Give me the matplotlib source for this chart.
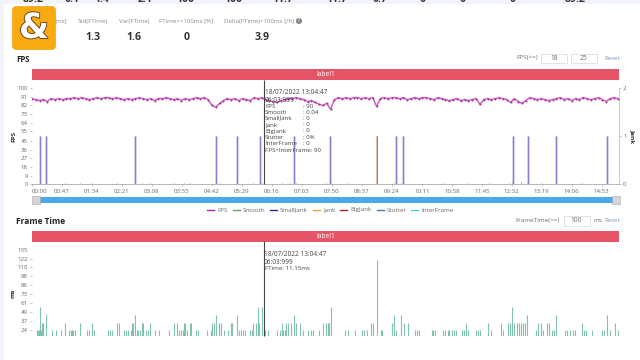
import matplotlib
matplotlib.use('Agg')
import matplotlib.pyplot as plt
import matplotlib.patheffects as pe
from matplotlib.patches import FancyBboxPatch, Rectangle

plt.rcParams['font.family'] = ['Open Sans', 'DejaVu Sans']

# ---- data ----
fps_step = 6  # seconds between samples
fps_values = [
    89, 88, 87, 88, 86, 89, 88, 89, 88, 89,
    89, 90, 89, 90, 89, 88, 89, 90, 89, 90,
    90, 89, 90, 89, 88, 89, 88, 89, 90, 89,
    88, 89, 87, 89, 89, 90, 89, 88, 89, 87,
    89, 88, 89, 90, 89, 90, 88, 82, 80, 84,
    87, 89, 88, 89, 87, 89, 88, 87, 90, 89,
    90, 88, 87, 86, 85, 87, 88, 89, 89, 90,
    89, 88, 86, 87, 85, 83, 82, 84, 78, 88,
    90, 89, 90, 89, 90, 90, 89, 90, 89, 90,
    81, 89, 90, 89, 90, 90, 89, 90, 88, 89,
    90, 89, 90, 90, 89, 88, 90, 89, 88, 87,
    88, 89, 87, 88, 87, 88, 89, 83, 88, 89,
    88, 89, 90, 89, 88, 85, 89, 86, 84, 87,
    90, 89, 88, 89, 88, 87, 88, 89, 90, 88,
    89, 87, 89, 88, 90, 89, 88, 89, 90, 88,
    86, 89, 90, 89,
]
smalljank_times = [13, 22, 162, 288, 321, 357, 410, 467, 571, 581, 754, 777, 822, 901]
bigjank_times = [541]
smooth_times = [12, 52, 75, 94, 133, 161, 172, 185, 223, 238, 248, 288, 294, 320, 347, 361,
                392, 405, 414, 460, 468, 496, 541, 568, 579, 645, 681, 716, 747, 753, 766,
                776, 798, 822, 862, 901]
smooth_values = [0.06, 0.03, 0.04, 0.03, 0.03, 0.06, 0.04, 0.03, 0.03, 0.04, 0.04, 0.07, 0.03,
                 0.04, 0.04, 0.04, 0.04, 0.04, 0.04, 0.04, 0.08, 0.03, 0.04, 0.03, 0.04, 0.03,
                 0.04, 0.04, 0.04, 0.07, 0.05, 0.04, 0.04, 0.06, 0.04, 0.06]

ftime_times = [
    8.3, 9.9, 11.5, 12, 13.5, 15.1, 16.7, 22.4, 30.8, 38.1, 45.4, 51.7, 58.5, 60.6, 62.7, 64.8,
    67.4, 74.7, 85.6, 89.8, 93.5, 97.7, 119.6, 122.2, 124.8, 132.7, 135.8, 144.2, 147.3, 151,
    154.6, 157.2, 158.8, 160.9, 164, 166.6, 169.2, 171.9, 174.5, 178.1, 182.3, 185.4, 192.8,
    199, 215.2, 222.5, 226.7, 230.4, 233.5, 236.1, 237.7, 240.3, 242.4, 247.1, 249.7, 257,
    260.7, 273.7, 280, 282.6, 285.2, 287.9, 293.6, 296.2, 300.9, 306.7, 311.4, 313, 320.8,
    324.4, 327.6, 331.2, 333.8, 341.7, 344.3, 346.9, 350.5, 353.7, 356.3, 360.5, 365, 369.4,
    383.5, 388.7, 391.3, 394, 396, 398, 401.8, 405.4, 410.6, 413.8, 420, 425.3, 433.1, 436.8,
    441, 450.3, 456.6, 460.3, 463.4, 466, 468.6, 490.6, 495.8, 506.2, 516.7, 520.4, 524.5,
    530.8, 535, 541.3, 546.5, 549.1, 563.7, 567.9, 570.5, 578.4, 583, 588.8, 600.3, 604, 607.1,
    626.5, 629, 631.7, 644.7, 647.4, 651.5, 654.1, 657.8, 661.5, 664.6, 673.5, 677.7, 680.8,
    683.9, 695.9, 698.6, 702.2, 715.3, 718.9, 734.6, 738.8, 746.6, 749.2, 752.9, 756, 760.2,
    763.3, 766.5, 769.6, 772.8, 775.4, 790, 793.7, 797.8, 801.5, 806.7, 810.4, 814.6, 818.2,
    821.9, 835.5, 839.1, 843.3, 847.5, 851.1, 861.6, 865.8, 868.4, 878.3, 894, 897.1, 900.8,
    906, 913.8, 918,
]
ftime_values = [
    24, 24, 24, 55, 24, 33, 33, 46, 24, 24, 24, 33, 24, 24, 24, 24,
    24, 33, 24, 24, 33, 24, 24, 24, 24, 33, 33, 24, 24, 24,
    24, 33, 33, 44, 24, 24, 24, 33, 33, 24, 24, 33, 24,
    24, 24, 33, 33, 24, 24, 24, 33, 33, 24, 33, 33, 24,
    24, 24, 24, 33, 33, 44, 33, 33, 24, 24, 33, 33, 44,
    24, 24, 24, 24, 24, 24, 33, 33, 55, 33, 55, 24, 24,
    24, 24, 33, 24, 24, 33, 33, 33, 44, 33, 33, 24, 24, 24,
    24, 24, 33, 33, 33, 33, 55, 24, 24, 24, 24, 24, 24,
    33, 33, 120, 24, 24, 33, 44, 24, 44, 33, 33, 24, 24, 24,
    24, 24, 24, 24, 24, 24, 24, 24, 24, 24, 24, 24, 33,
    24, 24, 24, 24, 33, 24, 33, 24, 33, 33, 55, 33, 33,
    33, 33, 33, 33, 44, 24, 33, 33, 24, 33, 33, 24, 24,
    44, 24, 24, 24, 24, 24, 33, 24, 24, 24, 24, 24, 44,
    24, 33, 24,
]
cursor_time = 363

fps_ticks = [0, 9, 18, 27, 36, 45, 55, 64, 73, 82, 91, 100]
jank_ticks = [0, 1, 2]
ftime_ticks = [24, 37, 49, 61, 73, 86, 98, 110, 122, 135]
time_labels = ['00:00', '00:47', '01:34', '02:21', '03:08', '03:55', '04:42', '05:29', '06:16', '07:03',
               '07:50', '08:37', '09:24', '10:11', '10:58', '11:45', '12:32', '13:19', '14:06', '14:53']
time_ticks = [47 * i for i in range(len(time_labels))]

top_labels = ['89.2', '0.1', '1.4', '2.1', '100', '100', '11.7', '11.7', '0.7', '0', '0', '0', '89.2']
top_label_x = [33, 72, 102, 145, 185, 233, 283, 337, 380, 423, 463, 513, 575]
stat_labels = ['[ms]', 'Std(FTime)', 'Var(FTime)', 'FTime>=100ms [%]', 'Delta(FTime)>100ms [/h]']
stat_label_x = [61, 93, 134, 186, 259]
stat_values = ['1.3', '1.6', '0', '3.9']
stat_value_x = [93, 134, 186.5, 262]

legend_names = ['FPS', 'Smooth', 'SmallJank', 'Jank', 'BigJank', 'Stutter', 'InterFrame']
legend_colors = ['#a5309a', '#5aa86f', '#2c2a8c', '#e8a33d', '#a52a2a', '#3f7fb5', '#55cfd6']
legend_x = [207, 233, 270, 313, 340, 377, 411]

tip_lines = ['FPS', 'Smooth', 'SmallJank', 'Jank', 'BigJank', 'Stutter', 'InterFrame']
tip_values = [': 90', ': 0.04', ': 0', ': 0', ': 0', ': 0%', ': 0']
tip_y = [107, 112, 118, 124.5, 131, 137.5, 143.5]

GREY = '#6a6a6a'
W, H = 640, 360
T_MAX = 920


def make_axes(fig, left, right, top, bottom):
    return fig.add_axes([left / W, 1 - bottom / H, (right - left) / W, (bottom - top) / H])


def style_axes(ax):
    ax.patch.set_alpha(0)
    for s in ax.spines.values():
        s.set_visible(False)
    ax.tick_params(length=1.5, width=0.4, color='#999999', labelcolor=GREY, labelsize=4.4, pad=1.5)


fig = plt.figure(figsize=(6.4, 3.6), dpi=100, facecolor='white')

# page layer in pixel units
page = fig.add_axes([0, 0, 1, 1], zorder=0)
page.set_xlim(0, W)
page.set_ylim(H, 0)
page.axis('off')
page.add_patch(Rectangle((0, 0), W, 4, color='#f2f4fb', lw=0))
page.add_patch(Rectangle((0, 0), 3.5, H, color='#f2f4fb', lw=0))

for x, t in zip(top_label_x, top_labels):
    page.text(x, 0, t, fontsize=7.6, fontweight='bold', color='#333333', ha='center', va='center')
for x, t in zip(stat_label_x, stat_labels):
    page.text(x, 21, t, fontsize=4.4, color='#8a8a8a', ha='center', va='center')
for x, t in zip(stat_value_x, stat_values):
    page.text(x, 37.5, t, fontsize=7.6, fontweight='bold', color='#333333', ha='center', va='center')
page.text(299, 21, '?', fontsize=3.6, color='white', ha='center', va='center', zorder=3,
          bbox=dict(boxstyle='circle,pad=0.12', fc='#8a8a8a', lw=0))

# titles, red label bars
page.text(16, 59, 'FPS', fontsize=5.6, fontweight='bold', color='#222222', va='center')
page.text(16, 221.5, 'Frame Time', fontsize=6, fontweight='bold', color='#222222', va='center')
for y in [68.5, 231]:
    page.add_patch(Rectangle((32, y), 587, 11, color='#e65468', lw=0))
    page.text(325.5, y + 5.5, 'label1', fontsize=4.8, color='white', ha='center', va='center')

# input boxes
page.text(538, 58, 'FPS(>=)', fontsize=4.6, color=GREY, ha='right', va='center')
page.text(560, 220.5, 'FrameTime(>=)', fontsize=4.6, color=GREY, ha='right', va='center')
page.text(598, 220.5, 'ms', fontsize=4.6, color=GREY, ha='center', va='center')
for x, y, w, t in [(541, 53.5, 26, '18'), (571, 53.5, 26, '25'), (563.5, 216, 26, '100')]:
    page.add_patch(Rectangle((x, y), w, 9.5, fc='white', ec='#d8d8d8', lw=0.5))
    page.text(x + w / 2, y + 4.8, t, fontsize=4.8, color=GREY, ha='center', va='center')
for y in [58, 220.5]:
    page.text(612, y, 'Reset', fontsize=4.4, color='#7d90c9', ha='center', va='center')

# FPS chart
ax = make_axes(fig, 32, 619, 88, 184.5)
ax.set_zorder(2)
style_axes(ax)
ax.set_xlim(0, T_MAX)
ax.set_ylim(0, 100)
ax.set_yticks(fps_ticks)
ax.set_xticks(time_ticks)
ax.set_xticklabels(time_labels)
ax.get_xticklabels()[0].set_ha('left')
ax.spines['bottom'].set_visible(True)
ax.spines['bottom'].set_color('#9a9a9a')
ax.spines['bottom'].set_linewidth(0.5)
ax.set_ylabel('FPS', fontsize=4.6, fontweight='bold', color='#333333', labelpad=1)

fps_times = [fps_step * i for i in range(len(fps_values))]
ax.plot(fps_times, fps_values, color='#efbde8', lw=1.6, zorder=3)
ax.plot(fps_times, fps_values, color='#a5309a', lw=0.5, marker='o', ms=1.4, mew=0, zorder=4)
ax.vlines(cursor_time, 0, 108.3, color='#444444', lw=0.8, clip_on=False, zorder=5)

ax2 = ax.twinx()
ax2.set_zorder(1)
style_axes(ax2)
ax2.set_xlim(0, T_MAX)
ax2.set_ylim(0, 2)
ax2.set_yticks(jank_ticks)
ax2.spines['right'].set_visible(True)
ax2.spines['right'].set_color('#b5b5b5')
ax2.spines['right'].set_linewidth(0.5)
ax2.set_ylabel('Jank', fontsize=4.6, fontweight='bold', color='#333333', rotation=270, labelpad=6)
ax2.vlines(smooth_times, 0, smooth_values, color='#5aa86f', lw=0.6)
ax2.vlines(smalljank_times, 0, 1, color='#c9c5ea', lw=1.8)
ax2.vlines(smalljank_times, 0, 1, color='#7e76c2', lw=0.6)
ax2.vlines(bigjank_times, 0, 1, color='#e8c2a6', lw=1.4)
ax2.vlines(bigjank_times, 0, 1, color='#b0643c', lw=0.6)

# zoom slider
page.add_patch(Rectangle((36, 197), 577, 6, color='#4aa9e9', lw=0))
for x in [32, 612]:
    page.add_patch(Rectangle((x, 196), 7.5, 8, fc='#d5d5d5', ec='#aaaaaa', lw=0.4, zorder=3))

# legend
for x, name, c in zip(legend_x, legend_names, legend_colors):
    page.plot([x, x + 7], [210, 210], color=c, lw=1)
    page.text(x + 10, 210, name, fontsize=4.5, color=GREY, va='center')

# Frame Time chart
ax3 = make_axes(fig, 32, 619, 250, 336)
ax3.set_zorder(2)
style_axes(ax3)
ax3.set_xlim(0, T_MAX)
ax3.set_ylim(15.7, 134)
ax3.set_yticks(ftime_ticks[:-1])
ax3.set_xticks([])
ax3.set_ylabel('ms', fontsize=4.6, fontweight='bold', color='#333333', labelpad=1)
ax3.vlines(ftime_times, 15.7, ftime_values, color='#63b596', lw=0.8, alpha=0.8)
ax3.vlines(cursor_time, 15.7, 147, color='#444444', lw=0.8, clip_on=False, zorder=5)
page.text(27.5, 250, str(ftime_ticks[-1]), fontsize=4.4, color=GREY, ha='right', va='center')

# overlay: tooltips and logo
top = fig.add_axes([0, 0, 1, 1], zorder=5)
top.set_xlim(0, W)
top.set_ylim(H, 0)
top.axis('off')
top.text(265, 92.5, '18/07/2022 13:04:47', fontsize=4.7, color='#444444', va='center')
top.text(265, 100, '06:03:999', fontsize=4.7, color='#444444', va='center')
for y, n, v in zip(tip_y, tip_lines, tip_values):
    top.text(265, y, n, fontsize=4.4, color='#444444', va='center')
    top.text(303, y, v, fontsize=4.4, color='#444444', va='center')
top.text(265, 150, 'FPS+InterFrame: 90', fontsize=4.4, color='#444444', va='center')
top.text(264, 255, '18/07/2022 13:04:47', fontsize=4.7, color='#444444', va='center')
top.text(264, 262, '06:03:999', fontsize=4.7, color='#444444', va='center')
top.text(265, 269, 'FTime: 11.15ms', fontsize=4.4, color='#444444', va='center')

top.add_patch(FancyBboxPatch((14, 8), 40, 40, boxstyle='round,pad=1.5,rounding_size=4',
                             fc='#f7ab10', ec='#f3a20a', lw=0.5))
top.text(34, 28, '&', fontsize=25, fontweight='bold', color='white', ha='center', va='center',
         family=['DejaVu Sans'], path_effects=[pe.withStroke(linewidth=1.2, foreground='#5a3410')])

fig.savefig('out.png', dpi=100)
